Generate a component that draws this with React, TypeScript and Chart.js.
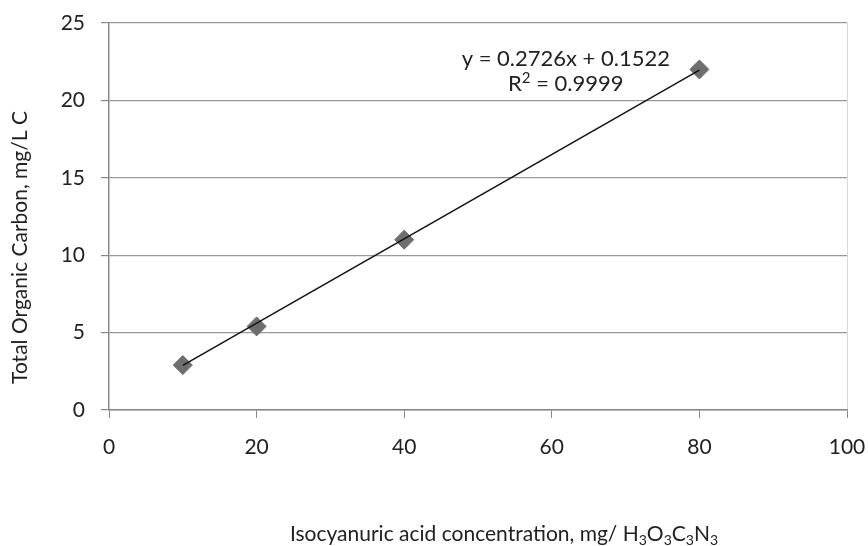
import React, { useEffect, useRef } from "react";
import { Chart, registerables } from "chart.js";

Chart.register(...registerables);

const concentrations = [10, 20, 40, 80];
const tocValues = [2.9, 5.4, 11.0, 22.0];
const trendX = [10, 80];
const trendY = [2.878, 21.96];
const xTicks = [0, 20, 40, 60, 80, 100];
const yTicks = [0, 5, 10, 15, 20, 25];

type Seg = { t: string; s?: "sub" | "sup" };
const equationLine1: Seg[] = [{ t: "y = 0.2726x + 0.1522" }];
const equationLine2: Seg[] = [{ t: "R" }, { t: "2", s: "sup" }, { t: " = 0.9999" }];
const xTitle: Seg[] = [
  { t: "Isocyanuric acid concentration, mg/ H" },
  { t: "3", s: "sub" },
  { t: "O" },
  { t: "3", s: "sub" },
  { t: "C" },
  { t: "3", s: "sub" },
  { t: "N" },
  { t: "3", s: "sub" },
];
const yTitle: Seg[] = [{ t: "Total Organic Carbon, mg/L C" }];

const FONT = "Lato, 'Open Sans', sans-serif";

function drawRich(ctx: CanvasRenderingContext2D, segs: Seg[], cx: number, baseline: number, size: number) {
  const small = Math.round(size * 0.68);
  let total = 0;
  const widths = segs.map((g) => {
    ctx.font = `${g.s ? small : size}px ${FONT}`;
    const w = ctx.measureText(g.t).width;
    total += w;
    return w;
  });
  let x = cx - total / 2;
  ctx.textAlign = "left";
  ctx.textBaseline = "alphabetic";
  segs.forEach((g, i) => {
    ctx.font = `${g.s ? small : size}px ${FONT}`;
    const dy = g.s === "sub" ? size * 0.2 : g.s === "sup" ? -size * 0.38 : 0;
    ctx.fillText(g.t, x, baseline + dy);
    x += widths[i];
  });
}

const textPlugin = {
  id: "richTexts",
  afterDatasetsDraw(chart: any) {
    const { ctx, scales, chartArea } = chart;
    ctx.save();
    ctx.fillStyle = "#222";
    const ex = scales.x.getPixelForValue(61.9);
    const ey = scales.y.getPixelForValue(22.74);
    drawRich(ctx, equationLine1, ex, ey + 8, 22);
    drawRich(ctx, equationLine2, ex, ey + 33, 22);
    const midX = (chartArea.left + chartArea.right) / 2;
    drawRich(ctx, xTitle, midX + 26, chart.height - 5, 21);
    ctx.save();
    const midY = (chartArea.top + chartArea.bottom) / 2;
    ctx.translate(27, midY + 31);
    ctx.rotate(-Math.PI / 2);
    drawRich(ctx, yTitle, 0, 0, 21);
    ctx.restore();
    ctx.restore();
  },
};

export default function App() {
  const ref = useRef<HTMLCanvasElement | null>(null);
  useEffect(() => {
    if (!ref.current) return;
    const chart = new Chart(ref.current, {
      type: "scatter",
      data: {
        datasets: [
          {
            label: "TOC",
            data: concentrations.map((c, i) => ({ x: c, y: tocValues[i] })),
            pointStyle: "rectRot",
            pointRadius: 9.5,
            pointHoverRadius: 9.5,
            backgroundColor: "#6e6e6e",
            borderColor: "#6a6a6a",
            borderWidth: 1,
            order: 2,
          },
          {
            label: "Trend",
            type: "line",
            data: trendX.map((c, i) => ({ x: c, y: trendY[i] })),
            borderColor: "#111",
            borderWidth: 1.5,
            pointRadius: 0,
            fill: false,
            order: 1,
          },
        ],
      },
      options: {
        animation: false,
        responsive: false,
        layout: { padding: { left: 0, right: 21, top: 23, bottom: 0 } },
        plugins: { legend: { display: false }, tooltip: { enabled: false } },
        scales: {
          x: {
            type: "linear",
            min: 0,
            max: 100,
            afterBuildTicks: (s: any) => {
              s.ticks = xTicks.map((v) => ({ value: v }));
            },
            afterFit: (s: any) => {
              s.height = 136;
              s.paddingLeft = 0;
              s.paddingRight = 0;
            },
            ticks: {
              color: "#222",
              font: { family: FONT, size: 21 },
              padding: 17,
            },
            grid: {
              drawOnChartArea: true,
              color: (c: any) => (c.tick && c.tick.value === 100 ? "#d9d9d9" : "transparent"),
              tickColor: "#888",
              tickLength: 8,
            },
            border: { color: "#888", width: 1.5 },
            title: { display: false },
          },
          y: {
            type: "linear",
            min: 0,
            max: 25,
            afterBuildTicks: (s: any) => {
              s.ticks = yTicks.map((v) => ({ value: v }));
            },
            afterFit: (s: any) => {
              s.width = 109;
              s.paddingTop = 0;
              s.paddingBottom = 0;
            },
            ticks: {
              color: "#222",
              font: { family: FONT, size: 21 },
              padding: 16,
            },
            grid: {
              color: "#999",
              lineWidth: 1.2,
              tickColor: "#888",
              tickLength: 8,
            },
            border: { color: "#888", width: 1.5 },
            title: { display: false },
          },
        },
      },
      plugins: [textPlugin],
    });
    return () => chart.destroy();
  }, []);
  return (
    <div style={{ position: "fixed", left: 0, top: 0, width: 868, height: 546, background: "#fff" }}>
      <canvas ref={ref} width={868} height={546} style={{ width: 868, height: 546 }} />
    </div>
  );
}
